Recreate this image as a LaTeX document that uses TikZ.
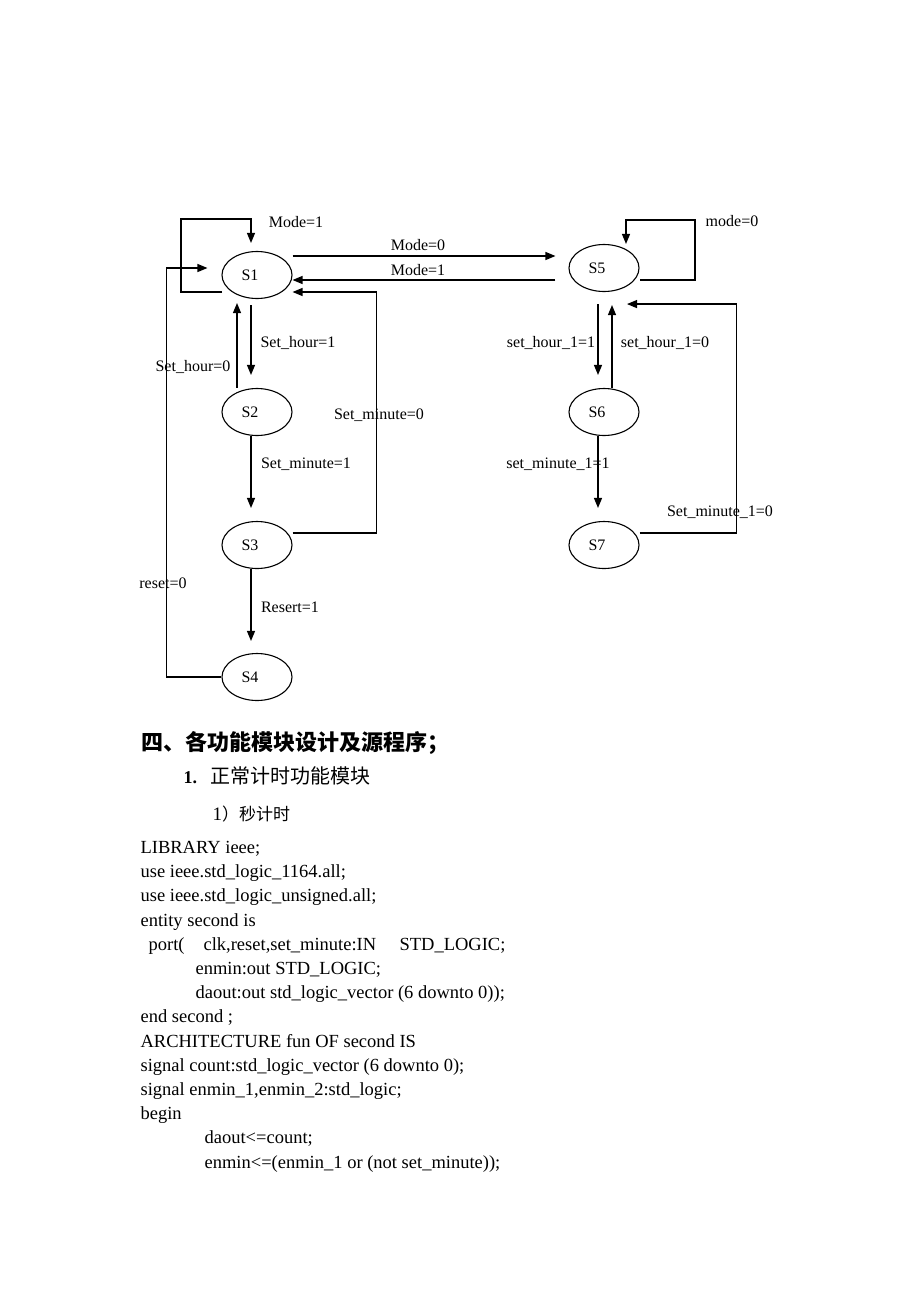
\documentclass[tikz,border=0pt]{standalone}
\usepackage{fontspec}
\setmainfont{Liberation Serif}
\newfontfamily\cjk{Noto Sans CJK SC}
\usetikzlibrary{arrows.meta, shapes.geometric, calc}

\begin{document}
\begin{tikzpicture}[
    x=1pt, y=-1pt,
    line width=1.2pt,
    >={Triangle[length=10pt,width=8pt]},
    stnode/.style={ellipse, draw, line width=1.1pt, minimum width=70pt, minimum height=47pt, inner sep=0pt,
        label={[xshift=-7pt,font=\fontsize{16}{19}\selectfont]center:#1}},
    lbl/.style={font=\fontsize{16}{19}\selectfont, anchor=base, inner sep=0pt},
    code/.style={font=\fontsize{18.5}{22}\selectfont, anchor=base west, inner sep=0pt}
]
\fill[white] (0,0) rectangle (920,1302);
\useasboundingbox (0,0) rectangle (920,1302);

% states
\node[stnode=S1] (S1) at (257,275) {};
\node[stnode=S2] (S2) at (257,412) {};
\node[stnode=S3] (S3) at (257,545) {};
\node[stnode=S4] (S4) at (257,677) {};
\node[stnode=S5] (S5) at (604,268) {};
\node[stnode=S6] (S6) at (604,412) {};
\node[stnode=S7] (S7) at (604,545) {};

% transitions
\draw[->] ($(S1)+(-35,17)$) -- ++(-41,0) |- ($(S1.north)+(-6,-32)$) -- ($(S1.north)+(-6,-8)$);
\draw[->] ($(S1.east)+(0,-19)$) -- ($(S5.west)+(-13,-12)$);
\draw[->] ($(S5.west)+(-13,12)$) -- ($(S1.east)+(0,5)$);
\draw[->] (S4.west) -- ++(-55,0) |- ($(S1.west)+(-14,-7)$);
\draw[->] ($(S1.south)+(-6,6)$) -- ($(S2.north)+(-6,-13)$);
\draw[->] ($(S2.north)+(-20,0)$) -- ($(S1.south)+(-20,4)$);
\draw[->] ($(S2.south)+(-6,0)$) -- ($(S3.north)+(-6,-13)$);
\draw[->] ($(S3.east)+(0,-12)$) -- ++(84,0) |- ($(S1.east)+(0,17)$);
\draw[->] ($(S3.south)+(-6,0)$) -- ($(S4.north)+(-6,-12)$);
\draw[->] ($(S5)+(36,12)$) -- ++(55,0) |- ($(S5.north)+(22,-24)$) -- ($(S5.north)+(22,0)$);
\draw[->] ($(S5.south)+(-6,12)$) -- ($(S6.north)+(-6,-13)$);
\draw[->] ($(S6.north)+(8,0)$) -- ($(S5.south)+(8,13)$);
\draw[->] ($(S6.south)+(-6,0)$) -- ($(S7.north)+(-6,-13)$);
\draw[->] ($(S7.east)+(0,-12)$) -- ++(97,0) |- ($(S5.south)+(23,12)$);

% transition labels
\node[lbl] (m1a) at (296,227) {Mode=1};
\node[lbl] (m0) at (418,250) {Mode=0};
\node[lbl] (m1b) at (418,275) {Mode=1};
\node[lbl] (sh1) at (298,347) {Set\_hour=1};
\node[lbl] (sh0) at (193,371) {Set\_hour=0};
\node[lbl] (sm0) at (379,419) {Set\_minute=0};
\node[lbl] (sm1) at (306,468) {Set\_minute=1};
\node[lbl] (rs0) at (163,588) {reset=0};
\node[lbl] (rs1) at (290,612) {Resert=1};
\node[lbl] (md0) at (732,226) {mode=0};
\node[lbl] (sha) at (551,347) {set\_hour\_1=1};
\node[lbl] (shb) at (665,347) {set\_hour\_1=0};
\node[lbl] (sma) at (558,468) {set\_minute\_1=1};
\node[lbl] (smb) at (720,516) {Set\_minute\_1=0};

% headings
\node[anchor=base west, inner sep=0pt, font=\cjk\bfseries\fontsize{22}{26}\selectfont] (h1) at (141,750) {四、各功能模块设计及源程序；};
\node[anchor=base west, inner sep=0pt, font=\fontsize{18}{22}\selectfont] (h2) at (183,783) {\textbf{1.}};
\node[anchor=base west, inner sep=0pt, font=\cjk\fontsize{20}{24}\selectfont] (h2t) at (210,783) {正常计时功能模块};
\node[anchor=base west, inner sep=0pt, font=\fontsize{19}{22}\selectfont] (h3) at (212,820) {1{\cjk\fontsize{17}{20}\selectfont ）秒计时}};

% code
\node[code] (c1) at (140,853.5) {LIBRARY ieee;};
\node[code] (c2) at (140,877.7) {use ieee.std\_logic\_1164.all;};
\node[code] (c3) at (140,901.9) {use ieee.std\_logic\_unsigned.all;};
\node[code] (c4) at (140,926.1) {entity second is};
\node[code] (c5) at (148,950.3) {port(};
\node[code] (c5b) at (203,950.3) {clk,reset,set\_minute:IN};
\node[code] (c5c) at (399,950.3) {STD\_LOGIC;};
\node[code] (c6) at (195,974.5) {enmin:out STD\_LOGIC;};
\node[code] (c7) at (195,998.7) {daout:out std\_logic\_vector (6 downto 0));};
\node[code] (c8) at (140,1022.9) {end second ;};
\node[code] (c9) at (140,1047.1) {ARCHITECTURE fun OF second IS};
\node[code] (c10) at (140,1071.3) {signal count:std\_logic\_vector (6 downto 0);};
\node[code] (c11) at (140,1095.5) {signal enmin\_1,enmin\_2:std\_logic;};
\node[code] (c12) at (140,1119.7) {begin};
\node[code] (c13) at (204,1143.9) {daout<=count;};
\node[code] (c14) at (204,1168.1) {enmin<=(enmin\_1 or (not set\_minute));};
\end{tikzpicture}
\end{document}
